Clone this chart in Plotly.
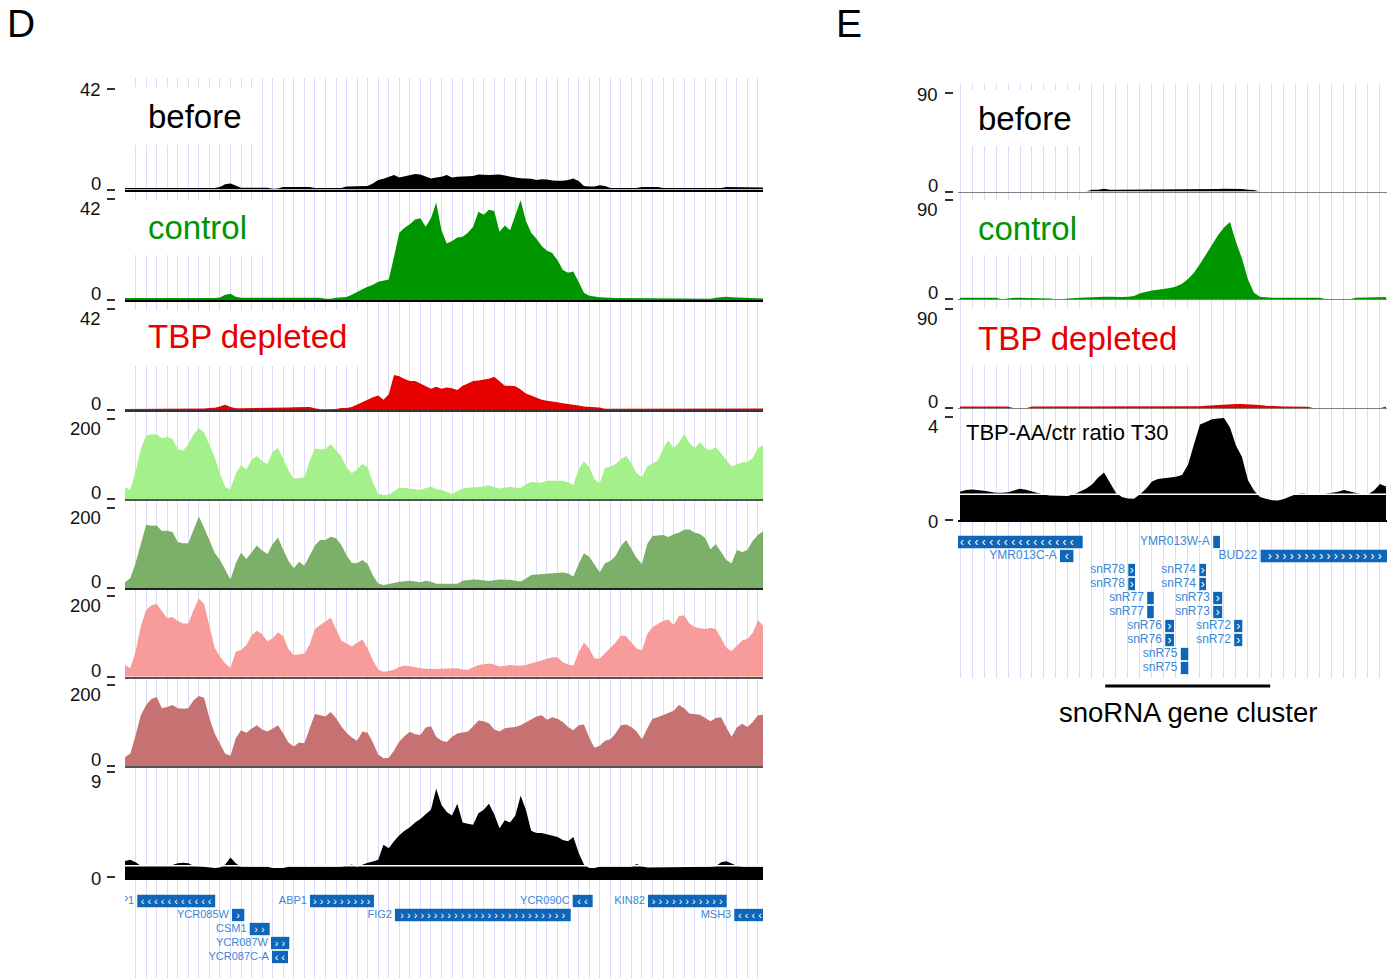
import plotly.graph_objects as go

W, H = 1400, 978


def fx(p):
    return p / W


def fy(p):
    return 1 - p / H


# ---------------------------------------------------------------- data
pos_D = list(range(122))   # sample bins across the panel-D window
pos_E = list(range(72))    # sample bins across the panel-E window

before_D = [
    0.6, 0.6, 0.6, 0.6, 0.6, 0.6, 0.6, 0.6, 0.6, 0.6,
    0.6, 0.6, 0.6, 0.6, 0.6, 0.6, 0.6, 0.6, 1.0, 2.2,
    2.5, 1.5, 0.7, 0.7, 0.7, 0.7, 0.7, 0.7, 0.3, 0.4,
    1.0, 1.0, 1.0, 1.0, 1.0, 1.0, 0.6, 0.6, 0.6, 0.6,
    0.6, 0.6, 1.2, 1.2, 1.2, 1.2, 1.5, 2.5, 4.0, 4.5,
    5.3, 6.0, 5.0, 5.5, 6.0, 6.5, 6.3, 5.5, 4.6, 5.0,
    5.3, 6.0, 5.0, 5.3, 5.3, 5.3, 5.6, 6.3, 6.1, 6.0,
    6.1, 6.3, 5.8, 5.3, 5.0, 4.7, 4.7, 4.5, 4.0, 4.3,
    4.2, 3.7, 3.6, 3.6, 4.0, 4.6, 3.5, 1.5, 1.3, 1.3,
    1.8, 1.5, 0.6, 0.6, 0.6, 0.6, 0.6, 0.6, 1.0, 1.0,
    1.0, 1.0, 0.6, 0.6, 0.6, 0.6, 0.6, 0.6, 0.6, 0.6,
    0.6, 0.6, 0.6, 0.6, 1.0, 1.0, 1.0, 1.0, 1.0, 0.8,
    0.8, 0.8]

control_D = [
    0.8, 0.8, 0.8, 0.8, 0.6, 0.5, 0.5, 0.5, 0.5, 0.5,
    0.5, 0.5, 0.5, 0.5, 0.5, 0.5, 0.7, 0.8, 1.0, 2.2,
    2.6, 1.3, 0.9, 0.9, 0.9, 0.9, 0.9, 0.9, 0.9, 0.9,
    0.9, 0.9, 0.9, 0.9, 0.9, 0.9, 0.9, 0.9, 0.5, 0.5,
    0.9, 1.0, 1.2, 2.2, 3.5, 4.5, 5.5, 6.3, 7.6, 8.0,
    8.5, 18, 28, 30, 31.5, 33.5, 34, 30.5, 34, 40.5,
    29, 23.5, 24.5, 26, 26.3, 28, 30.5, 36.7, 35.5, 37.5,
    37, 28.4, 31, 29, 35, 41.5, 33, 28, 25.5, 22.5,
    20.5, 19.5, 16.5, 12.5, 11.3, 11.8, 7.5, 3.0, 1.8, 1.3,
    1.1, 1.0, 0.8, 0.8, 0.8, 0.8, 0.8, 0.8, 0.8, 0.8,
    0.8, 0.5, 0.5, 0.5, 0.5, 0.5, 0.5, 0.5, 0.5, 0.5,
    0.5, 0.5, 0.9, 1.1, 1.3, 1.1, 1.0, 1.0, 1.0, 1.0,
    0.6, 0.6]

tbp_D = [
    0.4, 0.4, 0.4, 0.4, 0.4, 0.4, 0.4, 0.4, 0.4, 0.4,
    0.4, 0.4, 0.4, 0.4, 0.4, 0.6, 0.8, 0.9, 1.4, 2.2,
    1.2, 0.7, 0.7, 0.7, 0.7, 0.7, 0.7, 0.7, 0.7, 0.7,
    0.7, 1.0, 1.1, 1.2, 1.4, 1.2, 0.7, 0.3, 0.3, 0.3,
    0.4, 0.8, 0.8, 1.2, 2.2, 3.4, 4.5, 5.3, 6.0, 4.2,
    6.5, 14.5, 14, 12.8, 12, 12, 11, 9.8, 8.8, 9.6,
    8.8, 9.3, 9.0, 8.3, 10, 11, 12, 12.2, 12.5, 12.9,
    13.8, 12.0, 10, 10, 9.8, 8.5, 6.8, 6.0, 5.1, 4.2,
    3.8, 3.6, 3.2, 2.8, 2.6, 2.3, 1.9, 1.5, 1.4, 1.2,
    1.0, 0.5, 0.5, 0.5, 0.5, 0.5, 0.5, 0.5, 0.5, 0.5,
    0.4, 0.6, 0.6, 0.6, 0.4, 0.4, 0.4, 0.4, 0.4, 0.6,
    0.6, 0.6, 0.6, 0.6, 0.6, 0.6, 0.6, 0.6, 0.6, 0.6,
    0.6, 0.6]

input1_D = [
    30, 23, 68, 125, 158, 162, 162, 152, 155, 150,
    125, 121, 138, 162, 177, 166, 135, 105, 65, 30,
    25, 64, 84, 75, 98, 108, 95, 88, 118, 128,
    100, 72, 51, 52, 54, 95, 127, 124, 126, 137,
    122, 107, 80, 65, 75, 88, 80, 42, 14, 11,
    12, 20, 29, 28, 27, 25, 23, 28, 32, 25,
    23, 18, 13, 20, 27, 28, 30, 30, 33, 35,
    30, 27, 29, 31, 29, 28, 37, 44, 42, 42,
    46, 46, 46, 46, 42, 36, 75, 95, 80, 50,
    40, 78, 82, 88, 100, 108, 90, 65, 55, 82,
    90, 96, 125, 147, 128, 140, 163, 140, 128, 143,
    127, 123, 130, 115, 98, 82, 87, 92, 93, 103,
    128, 134]

input2_D = [
    15, 25, 62, 112, 158, 155, 156, 142, 143, 140,
    115, 112, 112, 145, 178, 150, 120, 88, 70, 45,
    22, 62, 88, 73, 90, 106, 94, 85, 110, 126,
    95, 68, 50, 66, 56, 82, 106, 120, 120, 128,
    124, 108, 82, 63, 62, 70, 60, 32, 12, 8,
    10, 13, 16, 18, 19, 17, 15, 19, 16, 11,
    11, 11, 11, 11, 19, 21, 22, 21, 19, 18,
    20, 22, 21, 21, 19, 17, 24, 33, 34, 35,
    36, 37, 38, 39, 37, 29, 60, 87, 78, 58,
    40, 62, 68, 80, 105, 120, 98, 75, 60, 110,
    130, 131, 132, 127, 134, 138, 145, 146, 138, 135,
    125, 97, 110, 90, 70, 62, 95, 90, 95, 118,
    132, 142]

input3_D = [
    29, 21, 62, 125, 165, 177, 180, 162, 145, 148,
    138, 132, 132, 165, 194, 180, 125, 72, 50, 33,
    22, 62, 66, 78, 103, 114, 105, 88, 95, 110,
    100, 68, 54, 56, 57, 80, 118, 128, 136, 146,
    118, 90, 82, 75, 84, 92, 70, 40, 18, 12,
    14, 17, 24, 28, 26, 23, 21, 20, 19, 19,
    20, 21, 21, 21, 18, 17, 24, 29, 31, 33,
    30, 25, 27, 29, 28, 27, 29, 33, 37, 41,
    44, 48, 48, 36, 30, 28, 60, 85, 70, 45,
    45, 58, 70, 85, 102, 100, 85, 70, 65, 105,
    123, 130, 138, 142, 128, 150, 152, 132, 123, 120,
    118, 121, 118, 95, 72, 64, 78, 90, 94, 108,
    140, 126]

input4_D = [
    22, 30, 75, 125, 150, 165, 170, 142, 145, 150,
    142, 141, 142, 162, 172, 168, 118, 80, 55, 30,
    25, 68, 88, 82, 92, 100, 90, 85, 92, 100,
    80, 58, 48, 58, 56, 90, 128, 125, 122, 133,
    118, 98, 82, 70, 62, 85, 82, 58, 28, 19,
    20, 38, 60, 74, 84, 78, 76, 95, 98, 72,
    62, 59, 72, 80, 82, 85, 98, 112, 110, 105,
    90, 85, 93, 95, 96, 100, 108, 115, 122, 125,
    114, 120, 116, 108, 96, 88, 100, 102, 70, 45,
    50, 62, 66, 80, 100, 102, 96, 85, 66, 92,
    116, 120, 126, 132, 136, 150, 142, 129, 128, 126,
    118, 110, 118, 120, 95, 72, 95, 104, 96, 108,
    125, 126]

ratio_D = [
    1.4, 1.5, 1.3, 1.0, 1.0, 1.0, 1.0, 1.0, 1.0, 1.05,
    1.2, 1.25, 1.2, 1.0, 0.95, 0.9, 0.82, 0.8, 0.85, 1.1,
    1.7, 1.2, 0.9, 0.9, 0.9, 0.9, 0.9, 0.9, 0.8, 0.77,
    0.8, 0.9, 0.9, 0.9, 0.9, 0.9, 0.9, 0.9, 0.9, 0.9,
    0.9, 0.9, 1.0, 1.1, 0.9, 1.1, 1.25, 1.35, 1.5, 2.8,
    2.5, 3.1, 3.6, 4.0, 4.3, 4.7, 5.0, 5.4, 5.8, 7.6,
    6.2, 5.6, 5.3, 6.3, 4.7, 4.6, 4.5, 5.5, 5.8, 6.3,
    5.4, 4.2, 4.9, 4.7, 5.3, 7.0, 5.8, 4.0, 3.8, 3.8,
    3.7, 3.6, 3.45, 3.2, 3.1, 3.45, 2.1, 1.1, 0.8, 0.8,
    0.9, 0.9, 0.9, 0.9, 0.9, 0.9, 0.9, 1.15, 0.95, 0.85,
    0.85, 0.85, 0.85, 0.85, 0.85, 0.85, 0.85, 0.85, 0.85, 0.85,
    0.85, 0.9, 0.95, 1.3, 1.37, 1.15, 1.0, 0.9, 0.9, 0.9,
    0.9, 0.9]

before_E = [
    0, 0, 0, 0, 0, 0, 0, 0, 0, 0,
    0, 0, 0, 0, 0, 0, 0, 0, 0, 0,
    0, 0, 1.6, 1.6, 2.6, 1.6, 1.6, 1.6, 1.6, 1.6,
    1.6, 1.6, 1.6, 1.6, 1.6, 1.6, 1.6, 1.6, 1.6, 1.6,
    1.6, 1.6, 1.6, 2.2, 2.5, 2.5, 2.5, 2.2, 1.6, 1.4,
    0, 0, 0, 0, 0, 0, 0, 0, 0, 0,
    0, 0, 0, 0, 0, 0, 0, 0, 0, 0,
    0, 0]

control_E = [
    1.4, 1.4, 1.4, 1.4, 1.4, 1.4, 1.4, 0, 0.8, 1.4,
    1.4, 1.4, 1.4, 1.4, 1.4, 0.8, 0, 0, 0.8, 1.4,
    1.4, 1.6, 2.0, 2.4, 2.4, 2.2, 2.0, 2.1, 2.4, 3.0,
    5.5, 7.0, 8.0, 8.7, 9.3, 10.2, 11.5, 14, 18.5, 24,
    32, 41, 49, 58, 65, 70, 52, 37, 18, 6,
    2.4, 1.6, 1.4, 1.4, 1.4, 1.4, 1.4, 1.4, 1.4, 1.4,
    1.4, 0, 0, 0, 0, 0, 1.4, 1.4, 1.4, 1.4,
    1.4, 2.0]

tbp_E = [
    1.6, 1.6, 1.6, 1.6, 1.6, 1.6, 1.6, 1.6, 1.6, 0,
    0, 0, 1.6, 1.6, 1.6, 1.6, 1.6, 1.6, 1.6, 1.6,
    1.6, 1.6, 2.2, 2.2, 2.2, 2.2, 2.2, 2.2, 2.2, 2.2,
    2.2, 1.8, 1.6, 1.6, 1.6, 1.6, 1.6, 1.6, 1.6, 1.6,
    1.9, 2.4, 2.8, 3.0, 3.3, 3.6, 3.8, 3.9, 3.8, 3.5,
    3.0, 2.4, 2.0, 1.6, 1.6, 1.6, 1.6, 1.6, 1.4, 0,
    0, 0, 0, 0, 0, 0, 0, 0, 0, 0,
    0, 1.6]

ratio_E = [
    1.1, 1.17, 1.19, 1.17, 1.14, 1.1, 1.06, 1.06, 1.08, 1.15,
    1.22, 1.18, 1.12, 1.03, 0.98, 0.95, 0.94, 0.93, 0.93, 1.0,
    1.1, 1.22, 1.38, 1.65, 1.85, 1.45, 1.05, 0.9, 0.84, 0.83,
    1.0, 1.22, 1.5, 1.6, 1.62, 1.64, 1.68, 1.75, 2.15, 2.95,
    3.72, 3.82, 3.92, 3.95, 3.97, 3.6, 2.9, 2.45, 1.55, 1.15,
    0.9, 0.83, 0.77, 0.76, 0.82, 0.92, 1.0, 1.04, 1.0, 0.97,
    0.98, 1.02, 1.04, 1.1, 1.17, 1.1, 1.05, 1.0, 1.0, 1.15,
    1.4, 1.3]

# gene annotation, panel D (positions in the same bins as the tracks)
gene_D_name = ["TUP1", "ABP1", "YCR090C", "KIN82", "YCR085W", "FIG2", "MSH3",
               "CSM1", "YCR087W", "YCR087C-A"]
gene_D_start = [2.33, 35.07, 84.87, 99.15, 20.28, 51.18, 115.5, 23.64, 27.68, 27.87]
gene_D_end = [17.1, 47.2, 88.66, 114.07, 22.62, 84.5, 121.5, 27.43, 31.15, 30.9]
gene_D_row = [1, 1, 1, 1, 2, 2, 2, 3, 4, 5]
gene_D_strand = ["-", "+", "-", "+", "+", "+", "-", "+", "+", "-"]
gene_D_arrows = [11, 9, 2, 11, 1, 25, 4, 2, 2, 2]

# gene annotation, panel E
gene_E_name = ["", "YMR013W-A", "YMR013C-A", "BUD22",
               "snR78", "snR74", "snR78", "snR74",
               "snR77", "snR73", "snR77", "snR73",
               "snR76", "snR72", "snR76", "snR72",
               "snR75", "snR75"]
gene_E_start = [-1.5, 42.2, 16.67, 50.1,
                28.05, 39.9, 28.05, 39.9,
                31.2, 42.2, 31.2, 42.2,
                34.2, 45.7, 34.2, 45.7,
                36.8, 36.8]
gene_E_end = [20.45, 43.33, 18.9, 71.5,
              29.17, 41.0, 29.17, 41.0,
              32.3, 43.7, 32.3, 43.7,
              35.67, 47.05, 35.67, 47.05,
              38.05, 38.05]
gene_E_row = [1, 1, 2, 2, 3, 3, 4, 4, 5, 5, 6, 6, 7, 7, 8, 8, 9, 10]
gene_E_strand = ["-", ".", "-", "+", "+", "+", "+", "+",
                 ".", "+", ".", "+", "+", "+", "+", "+", ".", "."]
gene_E_arrows = [16, 0, 1, 16, 1, 1, 1, 1, 0, 1, 0, 1, 1, 1, 1, 1, 0, 0]

cluster_span = [24.2, 51.7]

# ---------------------------------------------------------------- style
FONT = "Liberation Sans, Arial, Helvetica, sans-serif"
GRID = "#dcdcfa"
GENE_BOX = "#0f66b8"
GENE_TXT = "#3b86d6"
C_BLACK = "#000000"
C_GREEN = "#009600"
C_RED = "#e60000"
C_LG = "#a4f08a"
C_DG = "#7cb068"
C_PK = "#f89b9b"
C_DP = "#c67272"

XR_D = [0, 120.95]
XR_E = [-0.333, 71.17]

fig = go.Figure()
lay = dict(width=W, height=H, margin=dict(l=0, r=0, t=0, b=0),
           paper_bgcolor="white", plot_bgcolor="rgba(0,0,0,0)",
           showlegend=False, barmode="overlay",
           font=dict(family=FONT, color="black"))
ann = []
shp = []
counter = [0]


def new_ids():
    counter[0] += 1
    k = counter[0]
    return "" if k == 1 else str(k)


def add_bg(x0, x1, y0, y1, xr):
    s = new_ids()
    lay["xaxis" + s] = dict(domain=[fx(x0), fx(x1)], range=xr, anchor="y" + s,
                            showgrid=True, gridcolor=GRID, gridwidth=1, tick0=0, dtick=2,
                            ticks="", showticklabels=False, zeroline=False,
                            showline=False, fixedrange=True)
    lay["yaxis" + s] = dict(domain=[fy(y1), fy(y0)], range=[0, 1], anchor="x" + s,
                            visible=False, fixedrange=True)
    fig.add_trace(go.Scatter(x=[xr[0]], y=[-5], mode="markers",
                             marker=dict(size=1, opacity=0),
                             xaxis="x" + s, yaxis="y" + s, hoverinfo="skip"))


def add_track(xs, ys, color, ymax, ytop, ybot, xl, xrp, xr, tick_x, lab_x,
              top_mode, zero_mode, line_col, line_w, line_layer):
    s = new_ids()
    lay["xaxis" + s] = dict(domain=[fx(xl), fx(xrp)], range=xr, anchor="y" + s,
                            showline=True, linecolor=line_col, linewidth=line_w,
                            layer=line_layer, ticks="", showticklabels=False,
                            showgrid=False, zeroline=False, fixedrange=True)
    lay["yaxis" + s] = dict(domain=[fy(ybot), fy(ytop)], range=[0, ymax],
                            anchor="free", position=fx(tick_x), ticks="outside",
                            ticklen=8, tickwidth=1.5, tickcolor="#333",
                            tickvals=[0, ymax], showticklabels=False, showline=False,
                            showgrid=False, zeroline=False, fixedrange=True)
    fig.add_trace(go.Scatter(x=xs, y=ys, xaxis="x" + s, yaxis="y" + s, mode="lines",
                             line=dict(width=0, color=color), fill="tozeroy",
                             fillcolor=color, hoverinfo="skip"))
    modes = {"mid": ("middle", -1), "top": ("top", 3), "bottom": ("bottom", -6)}
    for val, mode in ((ymax, top_mode), (0, zero_mode)):
        ya, ys_ = modes[mode]
        ann.append(dict(text=str(val), x=fx(lab_x), xref="paper", xanchor="right",
                        y=val, yref="y" + s, yanchor=ya, yshift=ys_, showarrow=False,
                        font=dict(size=18.5, color="#111", family=FONT)))
    return s


def add_label_box(x0, y0, x1, y1):
    shp.append(dict(type="rect", xref="paper", yref="paper", x0=fx(x0), x1=fx(x1),
                    y0=fy(y1), y1=fy(y0), fillcolor="white", line=dict(width=0),
                    layer="above"))


def add_label(text, x, y, color, size):
    ann.append(dict(text=text, x=fx(x), xref="paper", xanchor="left", y=fy(y),
                    yref="paper", yanchor="middle", showarrow=False,
                    font=dict(size=size, color=color, family=FONT)))


def add_genes(names, starts, ends, rows, strands, arrows, xl, xrp, xr, ytop, ybot,
              yspan, fsize, csize):
    s = new_ids()
    lay["xaxis" + s] = dict(domain=[fx(xl), fx(xrp)], range=xr, anchor="y" + s,
                            visible=False, fixedrange=True)
    lay["yaxis" + s] = dict(domain=[fy(ybot), fy(ytop)], range=[yspan, 0],
                            anchor="x" + s, visible=False, fixedrange=True)
    chev = []
    for st, n in zip(strands, arrows):
        glyph = "\u2039" if st == "-" else "\u203a"
        chev.append(" ".join([glyph] * n) if st in "+-" else "")
    fig.add_trace(go.Bar(orientation="h", y=rows, base=starts,
                         x=[e - b for b, e in zip(starts, ends)], width=0.88,
                         marker=dict(color=GENE_BOX, line=dict(width=0)),
                         text=chev, textposition="inside", insidetextanchor="middle",
                         textangle=0, constraintext="none",
                         textfont=dict(color="white", size=csize, family=FONT),
                         insidetextfont=dict(color="white", size=csize, family=FONT),
                         xaxis="x" + s, yaxis="y" + s, hoverinfo="skip",
                         cliponaxis=True))
    fig.add_trace(go.Scatter(x=starts, y=rows,
                             text=[nm + "\u00a0" if nm else nm for nm in names],
                             mode="text", textposition="middle left",
                             textfont=dict(color=GENE_TXT, size=fsize, family=FONT),
                             xaxis="x" + s, yaxis="y" + s, hoverinfo="skip",
                             cliponaxis=True))
    return s


# ---------------------------------------------------------------- panel D
DL, DR = 125, 763
add_bg(DL, DR, 78, 978, XR_D)
tracks_D = [
    (before_D, C_BLACK, 42, 88.7, 189.5, "mid", "bottom", "#000", 1.5),
    (control_D, C_GREEN, 42, 199, 300, "top", "bottom", "#000", 1.5),
    (tbp_D, C_RED, 42, 308.5, 410, "top", "bottom", "#333", 1.5),
    (input1_D, C_LG, 200, 419, 499.3, "top", "bottom", "#555", 1.5),
    (input2_D, C_DG, 200, 507.7, 588.3, "top", "bottom", "#222", 1.5),
    (input3_D, C_PK, 200, 596, 676.7, "top", "bottom", "#555", 1.5),
    (input4_D, C_DP, 200, 684.7, 766, "top", "bottom", "#555", 1.5),
    (ratio_D, C_BLACK, 9, 772.3, 877.3, "top", "mid", "#000", 2.5),
]
ratio_D_ax = None
for vals, col, ymax, yt, yb, tm, zm, lc, lw in tracks_D:
    s = add_track(pos_D, vals, col, ymax, yt, yb, DL, DR, XR_D, 115, 103, tm, zm,
                  lc, lw, "above traces")
    ratio_D_ax = s
shp.append(dict(type="line", xref="x" + ratio_D_ax + " domain", x0=0, x1=1,
                yref="y" + ratio_D_ax, y0=1, y1=1, line=dict(color="white", width=1.5),
                layer="above"))

add_label_box(128, 87, 257, 145)
add_label_box(128, 200, 263, 255)
add_label_box(128, 310, 360, 366)
add_label("before", 146, 117, C_BLACK, 33)
add_label("control", 146, 227, C_GREEN, 33)
add_label("TBP depleted", 146, 337, C_RED, 33)

add_genes(gene_D_name, gene_D_start, gene_D_end, gene_D_row, gene_D_strand,
          gene_D_arrows, DL, DR, XR_D, 887, 978, 6.5, 11, 11)

# ---------------------------------------------------------------- panel E
EL, ER = 958, 1387
add_bg(EL, ER, 83, 678, XR_E)
tracks_E = [
    (before_E, C_BLACK, 90, 93, 191.5, "mid", "bottom", "#808080", 1, "below traces"),
    (control_E, C_GREEN, 90, 200, 299.3, "top", "bottom", "#808080", 1, "below traces"),
    (tbp_E, C_RED, 90, 309, 408.3, "top", "bottom", "#808080", 1, "below traces"),
    (ratio_E, C_BLACK, 4, 417.3, 520, "top", "mid", "#000", 1.5, "above traces"),
]
ratio_E_ax = None
for vals, col, ymax, yt, yb, tm, zm, lc, lw, ll in tracks_E:
    s = add_track(pos_E, vals, col, ymax, yt, yb, EL, ER, XR_E, 953, 940, tm, zm,
                  lc, lw, ll)
    ratio_E_ax = s
shp.append(dict(type="line", xref="x" + ratio_E_ax + " domain", x0=0, x1=1,
                yref="y" + ratio_E_ax, y0=1, y1=1, line=dict(color="white", width=1.5),
                layer="above"))

add_label_box(962, 90, 1083, 146)
add_label_box(962, 200, 1093, 255)
add_label_box(962, 308, 1190, 365)
add_label("before", 976, 118, C_BLACK, 33)
add_label("control", 976, 228, C_GREEN, 33)
add_label("TBP depleted", 976, 338, C_RED, 33)
add_label("TBP-AA/ctr ratio T30", 964, 432, C_BLACK, 22)

gE = add_genes(gene_E_name, gene_E_start, gene_E_end, gene_E_row, gene_E_strand,
               gene_E_arrows, EL, ER, XR_E, 528, 678, 150 / 14, 12, 12)

shp.append(dict(type="line", xref="x" + gE, x0=cluster_span[0], x1=cluster_span[1],
                yref="paper", y0=fy(686), y1=fy(686), line=dict(color="black", width=3)))
ann.append(dict(text="snoRNA gene cluster", x=(cluster_span[0] + cluster_span[1]) / 2,
                xref="x" + gE, xanchor="center", y=fy(712), yref="paper",
                yanchor="middle", showarrow=False,
                font=dict(size=27.5, color="black", family=FONT)))

# panel letters
add_label("D", 5, 24, "black", 39)
add_label("E", 834, 24, "black", 39)

lay["annotations"] = ann
lay["shapes"] = shp
fig.update_layout(**lay)
# remove the browser's default 8px body margin so the figure sits at the window origin
fig.write_html("out.html", config={"displayModeBar": False},
               post_script="document.body.style.margin = '0px';")
